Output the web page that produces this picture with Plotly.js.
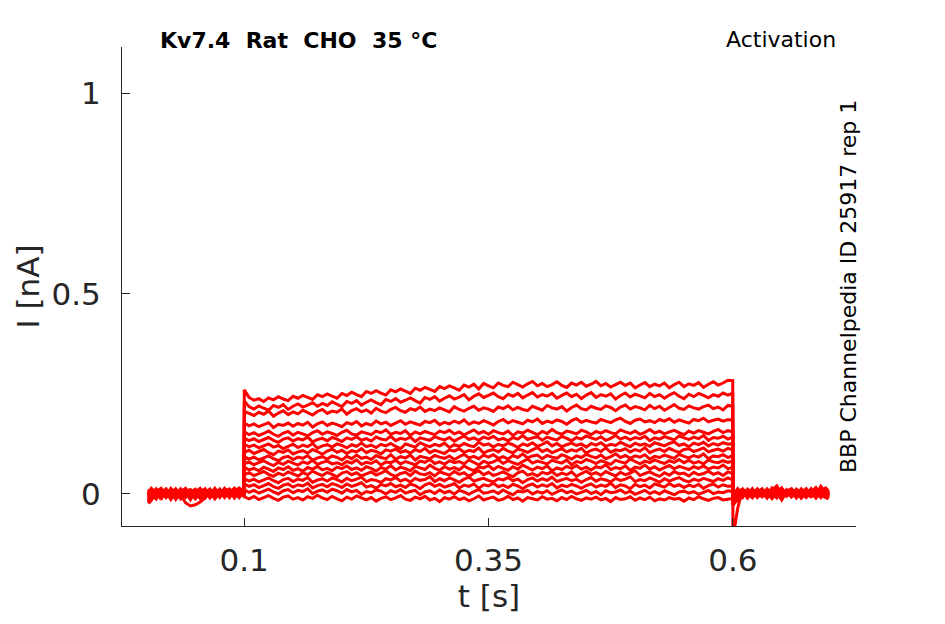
<!DOCTYPE html>
<html>
<head>
<meta charset="utf-8">
<script src="https://cdn.plot.ly/plotly-3.0.1.min.js"></script>
<style>html,body{margin:0;padding:0;background:#fff;}#chart{width:945px;height:624px;}</style>
</head>
<body>
<div id="chart"></div>
<script>
// sample times in ms
const tPre = [2, 5, 10, 15, 20, 25, 30, 35, 40, 45, 50, 55, 60, 65, 70, 75, 80, 85, 90, 95, 99.9];
const tStep = [100.1, 105, 110, 115, 120, 125, 130, 135, 140, 145, 150, 155, 160, 165, 170, 175, 180, 185, 190, 195,
  200, 205, 210, 215, 220, 225, 230, 235, 240, 245, 250, 255, 260, 265, 270, 275, 280, 285, 290, 295,
  300, 305, 310, 315, 320, 325, 330, 335, 340, 345, 350, 355, 360, 365, 370, 375, 380, 385, 390, 395,
  400, 405, 410, 415, 420, 425, 430, 435, 440, 445, 450, 455, 460, 465, 470, 475, 480, 485, 490, 495,
  500, 505, 510, 515, 520, 525, 530, 535, 540, 545, 550, 555, 560, 565, 570, 575, 580, 585, 590, 595, 599.9];
const tPost = [600.1, 605, 610, 615, 620, 625, 630, 635, 640, 645, 650, 655, 660, 665, 670, 675, 680, 685, 690, 695, 698];

// currents in pA: before the step, during the step, after the step
const pre = [
  [-10, 8, -6, 12, -3, 9, -13, 4, 11, -7, 6, 14, -4, 10, -11, 2, 13, -6, 7, 15, 3],
  [-20, -9, 6, -14, 11, 0, -8, 12, -4, 8, -12, 2, 10, -6, 14, -2, 6, -9, 11, 0, -6],
  [5, -15, 2, 11, -8, 4, -12, 9, 0, -11, 7, -4, 12, -9, 3, 11, -6, 2, 14, -8, 9],
  [-24, -16, 9, -4, 6, -11, 12, -2, 7, -14, 4, 11, -7, 0, 9, -5, 14, 3, -4, 9, 2],
  [9, -4, -13, 7, -6, 14, 2, -9, 11, -2, 5, -11, 3, 12, -8, 7, 0, 11, -6, 5, 12],
  [-7, 5, 11, -9, 4, -6, 9, -2, -22, -30, -27, -20, -10, 5, -4, 9, -7, 3, 12, -2, 7],
  [3, -11, 6, 14, -4, 9, -9, 2, 12, -6, 7, -2, 11, -10, 5, 0, 9, -4, 7, 13, 0],
  [-17, 9, -7, 4, 12, -6, 2, -12, 7, 11, -4, 5, -9, 10, 2, -6, 12, 7, -2, 6, -5],
  [12, 0, -9, 5, -2, 11, -7, 4, 9, -11, 2, 12, -5, 7, -3, 9, 3, -7, 11, 2, 10],
  [-5, 14, 2, -10, 7, -4, 11, 0, -9, 5, 12, -6, 4, -2, 10, -9, 6, 12, 0, 7, -4],
  [-22, -10, 10, 2, -7, 5, -12, 9, 3, -4, 7, -11, 2, 11, -6, 7, -2, 4, 14, -4, 5],
  [7, -6, 0, 9, -9, 4, 12, -4, 5, -7, 0, 9, -2, 5, -12, 3, 10, -5, 2, 9, 13],
  [-13, 2, 9, -7, 5, -14, 4, 11, -5, 2, -9, 7, 12, -4, 6, -7, 2, 9, -10, 4, -2],
  [5, -12, 7, 2, 11, -4, -9, 5, 14, -2, 4, -7, 9, 0, -5, 12, -4, 7, 2, -9, 10],
  [-18, 4, -4, 9, 0, 7, -5, 12, 2, -7, 9, 4, -10, 5, 11, -2, 7, -7, 4, 12, 0],
  [2, -7, 12, -5, 4, -2, 10, -7, 5, 2, -11, 5, 0, 9, -4, 5, -9, 11, -2, 4, -5]
];
const step = [
  [260, 241, 234, 238, 231, 240, 235, 243, 237, 233, 244, 239, 246, 241, 236, 248, 243, 250, 244, 239, 251,
   246, 254, 248, 243, 256, 251, 258, 252, 247, 260, 255, 262, 257, 251, 264, 259, 266, 261, 256, 268,
   263, 270, 265, 259, 272, 267, 274, 262, 276, 270, 265, 277, 271, 268, 279, 273, 267, 275, 281, 270,
   276, 268, 273, 280, 271, 266, 277, 272, 279, 269, 274, 281, 270, 276, 267, 273, 279, 271, 277, 265,
   272, 278, 268, 274, 270, 277, 265, 273, 279, 268, 275, 271, 278, 266, 274, 280, 272, 277, 284, 283],
  [232, 218, 212, 220, 214, 209, 221, 216, 223, 211, 219, 225, 217, 222, 228, 219, 226, 221, 230, 224, 218,
   231, 226, 233, 222, 229, 235, 228, 223, 236, 231, 238, 229, 234, 240, 233, 227, 241, 236, 243, 232,
   239, 245, 237, 242, 248, 235, 244, 250, 241, 246, 252, 243, 238, 249, 244, 251, 240, 247, 253, 242,
   248, 244, 251, 239, 246, 252, 243, 249, 238, 247, 253, 241, 248, 244, 250, 237, 246, 252, 242, 249,
   245, 240, 251, 243, 248, 239, 247, 253, 244, 238, 249, 243, 251, 246, 240, 248, 244, 252, 247, 251],
  [206, 201, 196, 204, 199, 207, 194, 202, 208, 198, 205, 200, 209, 203, 197, 206, 211, 201, 207, 204, 212,
   199, 208, 213, 205, 210, 202, 214, 207, 203, 211, 216, 208, 204, 213, 209, 217, 206, 212, 208, 215,
   210, 205, 218, 211, 207, 214, 219, 209, 215, 212, 206, 217, 213, 220, 210, 216, 211, 208, 219, 214,
   209, 221, 215, 212, 218, 207, 216, 222, 213, 210, 219, 214, 211, 220, 216, 208, 217, 222, 212, 218,
   215, 210, 221, 213, 219, 209, 216, 223, 214, 211, 220, 215, 212, 218, 222, 213, 217, 210, 221, 219],
  [177, 170, 175, 168, 173, 178, 166, 174, 171, 177, 169, 176, 172, 179, 167, 175, 180, 171, 177, 173, 168,
   178, 174, 181, 170, 176, 172, 182, 175, 179, 171, 177, 183, 174, 180, 176, 172, 181, 178, 184, 173,
   179, 175, 182, 177, 185, 174, 180, 176, 183, 178, 172, 181, 186, 177, 183, 179, 175, 184, 180, 187,
   176, 182, 178, 185, 181, 174, 183, 188, 179, 184, 180, 177, 186, 182, 178, 185, 189, 181, 176, 184,
   187, 180, 183, 178, 186, 182, 188, 179, 185, 181, 177, 186, 183, 189, 180, 184, 187, 182, 186, 184],
  [155, 148, 153, 146, 151, 157, 149, 144, 152, 156, 147, 154, 150, 145, 153, 158, 149, 155, 151, 146, 154,
   159, 150, 147, 155, 152, 148, 157, 153, 160, 149, 154, 151, 158, 146, 155, 150, 156, 152, 148, 157,
   153, 159, 150, 155, 147, 154, 160, 151, 156, 149, 158, 153, 150, 157, 146, 155, 152, 159, 154, 148,
   156, 151, 161, 153, 149, 157, 154, 150, 159, 155, 148, 156, 152, 158, 153, 150, 160, 155, 151, 157,
   149, 154, 161, 152, 157, 150, 155, 159, 153, 148, 157, 152, 158, 154, 150, 156, 161, 153, 158, 155],
  [139, 133, 138, 131, 136, 141, 134, 129, 137, 140, 132, 138, 135, 142, 130, 136, 139, 133, 141, 137, 131,
   140, 136, 143, 134, 138, 132, 142, 137, 135, 144, 133, 139, 136, 142, 131, 140, 137, 134, 143, 138,
   135, 141, 132, 139, 145, 136, 140, 134, 142, 138, 144, 135, 139, 133, 141, 137, 146, 136, 140, 143,
   134, 142, 138, 135, 144, 139, 133, 141, 137, 145, 140, 136, 143, 134, 139, 146, 137, 142, 135, 141,
   138, 144, 133, 140, 137, 143, 139, 135, 145, 140, 136, 142, 138, 146, 134, 141, 139, 144, 137, 142],
  [124, 118, 122, 115, 120, 125, 117, 121, 113, 119, 124, 116, 122, 118, 126, 114, 120, 123, 117, 125, 121,
   115, 123, 119, 127, 118, 122, 116, 124, 120, 126, 119, 113, 125, 121, 117, 128, 122, 118, 124, 120,
   127, 116, 123, 119, 126, 121, 118, 129, 122, 125, 117, 124, 120, 127, 123, 116, 125, 121, 128, 119,
   124, 130, 120, 126, 118, 123, 127, 121, 125, 117, 126, 122, 128, 119, 124, 121, 129, 123, 118, 127,
   122, 125, 119, 128, 124, 120, 126, 130, 121, 125, 118, 127, 123, 129, 120, 126, 122, 128, 124, 126],
  [104, 109, 101, 106, 111, 103, 98, 107, 104, 110, 100, 105, 108, 102, 111, 106, 99, 107, 112, 104, 109,
   101, 108, 105, 113, 103, 109, 106, 100, 110, 107, 112, 104, 108, 102, 111, 106, 114, 103, 109, 105,
   101, 110, 107, 113, 104, 109, 106, 115, 102, 108, 111, 105, 114, 107, 103, 112, 109, 104, 110, 116,
   106, 111, 103, 108, 113, 105, 110, 107, 114, 102, 109, 112, 106, 115, 104, 110, 108, 113, 105, 111,
   107, 116, 103, 109, 112, 106, 114, 108, 104, 111, 113, 106, 110, 115, 105, 109, 112, 107, 114, 110],
  [93, 87, 92, 85, 90, 95, 88, 83, 91, 94, 86, 92, 89, 96, 84, 90, 93, 87, 95, 91, 85,
   94, 88, 97, 89, 92, 86, 96, 91, 88, 98, 87, 93, 90, 97, 85, 94, 91, 88, 96, 92,
   89, 95, 86, 93, 99, 90, 94, 88, 97, 92, 98, 89, 93, 87, 96, 91, 100, 90, 95, 97,
   88, 96, 92, 89, 98, 93, 87, 95, 91, 99, 94, 90, 97, 88, 93, 100, 91, 96, 89, 95,
   92, 98, 87, 94, 91, 97, 93, 89, 99, 94, 90, 96, 92, 100, 88, 95, 93, 98, 91, 96],
  [75, 80, 73, 78, 83, 76, 71, 79, 74, 82, 77, 72, 80, 76, 84, 74, 79, 82, 75, 78, 73,
   81, 77, 85, 74, 79, 76, 83, 72, 80, 78, 84, 75, 81, 77, 73, 82, 79, 86, 76, 80,
   74, 83, 78, 81, 75, 85, 79, 72, 82, 77, 80, 86, 76, 83, 78, 74, 81, 87, 77, 82,
   79, 75, 84, 80, 77, 85, 73, 81, 78, 86, 82, 76, 83, 79, 74, 84, 80, 77, 87, 81,
   75, 82, 78, 85, 80, 76, 83, 79, 86, 78, 84, 77, 81, 75, 85, 80, 78, 83, 79, 82],
  [66, 60, 64, 58, 67, 62, 56, 65, 61, 68, 59, 63, 57, 66, 62, 69, 60, 64, 58, 67, 63,
   70, 61, 65, 59, 68, 64, 57, 66, 62, 71, 60, 67, 63, 58, 69, 65, 61, 72, 64, 59,
   68, 62, 66, 60, 70, 63, 58, 67, 65, 71, 61, 69, 64, 59, 68, 62, 72, 66, 60, 67,
   63, 70, 58, 65, 61, 69, 64, 71, 62, 67, 60, 68, 65, 73, 61, 66, 63, 70, 59, 67,
   64, 72, 62, 68, 60, 66, 71, 63, 69, 65, 61, 68, 64, 70, 62, 67, 65, 72, 63, 66],
  [48, 53, 46, 51, 56, 49, 44, 52, 47, 55, 50, 45, 53, 48, 57, 51, 46, 54, 49, 43, 52,
   56, 48, 53, 45, 50, 55, 47, 52, 58, 49, 44, 51, 54, 46, 57, 50, 48, 53, 45, 55,
   51, 47, 56, 49, 53, 44, 52, 58, 48, 54, 46, 50, 55, 49, 43, 53, 57, 47, 51, 45,
   54, 50, 56, 46, 52, 48, 55, 44, 51, 57, 49, 53, 47, 56, 50, 45, 54, 48, 52, 58,
   46, 51, 55, 49, 44, 53, 47, 56, 50, 52, 45, 54, 48, 51, 57, 49, 53, 46, 55, 51],
  [38, 32, 37, 30, 35, 40, 33, 28, 36, 39, 31, 37, 34, 41, 29, 35, 38, 32, 40, 36, 30,
   39, 33, 37, 42, 31, 36, 34, 29, 38, 35, 41, 32, 37, 30, 39, 34, 36, 43, 31, 38,
   33, 40, 35, 29, 37, 42, 32, 36, 39, 34, 30, 38, 35, 41, 33, 37, 28, 36, 40, 32,
   38, 34, 42, 31, 35, 39, 33, 37, 29, 36, 41, 32, 38, 35, 30, 39, 34, 37, 43, 31,
   36, 33, 40, 35, 29, 38, 32, 37, 41, 34, 30, 37, 33, 39, 35, 31, 38, 34, 40, 35],
  [25, 19, 23, 16, 21, 26, 18, 14, 22, 25, 17, 23, 20, 27, 15, 21, 24, 18, 26, 22, 16,
   25, 19, 23, 28, 17, 21, 14, 24, 20, 26, 18, 22, 16, 25, 21, 13, 23, 27, 19, 24,
   17, 21, 26, 15, 22, 19, 25, 14, 23, 20, 27, 18, 22, 16, 24, 20, 13, 21, 25, 17,
   23, 19, 26, 15, 22, 18, 24, 20, 14, 21, 25, 17, 22, 19, 27, 16, 23, 20, 13, 24,
   18, 22, 15, 25, 21, 17, 26, 19, 23, 16, 22, 18, 24, 14, 21, 25, 17, 23, 19, 20],
  [10, 4, 9, 2, 7, 12, 5, 0, 8, 11, 3, 9, 6, 13, 1, 7, 10, 4, 12, 8, 2,
   11, 5, 9, -1, 6, 3, 10, 7, 0, 8, 4, 11, 2, 6, 9, -2, 5, 8, 1, 10,
   3, 7, 0, 9, 5, -1, 6, 11, 2, 4, 8, 1, 10, 3, -2, 7, 5, 9, 0, 6,
   2, 8, -1, 5, 10, 3, 7, 0, 4, 9, 1, 6, -2, 8, 3, 5, 10, 2, 7, -1,
   4, 9, 1, 6, 0, 8, 3, -2, 5, 7, 2, 6, -1, 4, 9, 1, 5, 3, 8, 6],
  [-7, -12, -6, -14, -9, -4, -11, -16, -8, -5, -13, -9, -15, -7, -11, -3, -10, -14, -6, -12, -17,
   -8, -13, -5, -10, -15, -9, -18, -11, -7, -14, -10, -4, -13, -16, -8, -12, -6, -15, -11, -19,
   -9, -13, -7, -14, -10, -17, -12, -5, -15, -11, -8, -16, -13, -6, -14, -10, -18, -9, -12, -15,
   -7, -13, -11, -17, -9, -14, -6, -12, -16, -10, -13, -8, -15, -11, -19, -9, -14, -12, -7, -16,
   -10, -14, -8, -17, -12, -15, -9, -13, -11, -18, -10, -14, -7, -12, -16, -11, -9, -15, -13, -11]
];
const post = [
  [-110, -35, 10, -5, 13, -4, 9, -7, 15, 2, -9, 7, 12, -4, 10, -5, 5, 16, -2, 9, 5],
  [-28, -14, -4, 9, 0, 12, -5, 7, 2, -10, 10, 3, -7, 9, 0, 13, -4, 5, -9, 10, 2],
  [-20, 5, 12, 2, -9, 5, -2, 10, -7, 3, 15, -4, 7, -10, 5, 2, 10, -5, 19, 3, -2],
  [-12, -12, 3, 7, 10, -5, 9, 0, -9, 12, 2, 5, -4, 10, -7, 3, 9, -2, 7, -5, 3],
  [-24, -7, 5, -10, 7, 2, -7, 12, 3, -4, 9, -5, 10, 0, -9, 7, 2, 12, -4, 5, -7],
  [-9, -16, 10, 0, -5, 9, 3, -9, 5, 13, -4, 10, -7, 2, 9, -2, 5, -10, 7, 15, 7],
  [-17, -5, 7, 3, -7, 12, 2, -5, 9, 20, 0, -4, 9, 3, -5, 10, -2, 7, 3, -7, 2],
  [-10, 5, -9, 12, 3, -4, 7, 10, -7, 5, 9, 0, -5, 12, 2, -9, 5, 10, -4, 7, 9],
  [-26, -10, 2, 5, -7, 10, 2, -5, 9, 0, -9, 5, 13, -2, 7, -4, 9, 0, -7, 3, -10],
  [-6, 13, -4, 7, -5, 9, 5, -10, 7, 10, -4, 2, 9, -7, 3, 12, -5, 7, 2, 10, -4],
  [-19, -9, 7, -4, 12, -7, 10, 0, 5, -5, 12, -2, 3, 9, -9, 5, 0, -4, 10, 5, 7],
  [-14, 3, 12, -7, 2, 9, -5, 12, -4, 7, 0, 10, -7, 3, 9, -2, 13, -5, 3, 9, -2],
  [-5, -10, 2, 9, -9, 5, 13, -4, 10, -7, 5, -2, 9, 3, -5, 10, 2, -9, 5, 12, 3],
  [-22, 9, -5, 3, 10, -9, 2, 7, -5, 12, -9, 3, 7, -4, 13, 0, -7, 5, 9, -2, -5],
  [-12, 2, 10, -10, 5, 0, 9, -7, 12, 3, 7, -5, 10, 2, -4, 9, 5, -9, 12, 0, 7],
  [-15, -13, 0, 7, -4, 10, -5, 3, -12, 2, -15, 5, 0, 9, -10, 3, -5, 7, -2, -9, -12]
];

const xTickVals = [0.1, 0.35, 0.6];
const xTickText = ['0.1', '0.35', '0.6'];
const yTickVals = [0, 0.5, 1];
const yTickText = ['0', '0.5', '1'];

const tSec = tPre.concat(tStep, tPost).map(v => v / 1000);
const traces = pre.map((p, i) => ({
  type: 'scatter', mode: 'lines',
  x: tSec,
  y: p.concat(step[i], post[i]).map(v => v / 1000),
  line: {color: '#ff0000', width: 3, simplify: false},
  hoverinfo: 'skip', showlegend: false
}));

const axisColor = '#262626';
const font = 'DejaVu Sans, sans-serif';
const layout = {
  width: 945, height: 624,
  margin: {l: 122, r: 89, t: 47, b: 98, pad: 0},
  paper_bgcolor: '#ffffff', plot_bgcolor: '#ffffff',
  font: {family: font, color: axisColor},
  showlegend: false,
  xaxis: {
    range: [-0.025, 0.726], tickvals: xTickVals, ticktext: xTickText,
    ticks: 'inside', ticklen: 8, tickwidth: 1, tickcolor: axisColor,
    showline: true, linecolor: axisColor, linewidth: 1, mirror: false,
    showgrid: false, zeroline: false,
    tickfont: {family: font, size: 31, color: axisColor},
    ticklabelstandoff: 7,
    title: {text: 't [s]', font: {family: font, size: 31, color: axisColor}, standoff: 8}
  },
  yaxis: {
    range: [-0.08, 1.116], tickvals: yTickVals, ticktext: yTickText,
    ticks: 'inside', ticklen: 8, tickwidth: 1, tickcolor: axisColor,
    showline: true, linecolor: axisColor, linewidth: 1, mirror: false,
    showgrid: false, zeroline: false,
    tickfont: {family: font, size: 31, color: axisColor},
    ticklabelstandoff: 14,
    title: {text: 'I [nA]', font: {family: font, size: 31, color: axisColor}, standoff: 2}
  },
  annotations: [
    {text: '<b>Kv7.4\u00a0\u00a0Rat\u00a0\u00a0CHO\u00a0\u00a035\u00a0°C</b>', xref: 'paper', yref: 'paper',
     x: 0.049, y: 1.0146, xanchor: 'left', yanchor: 'middle', showarrow: false,
     font: {family: font, size: 22, color: '#000000'}},
    {text: 'Activation', xref: 'paper', yref: 'paper',
     x: 0.9755, y: 1.0167, xanchor: 'right', yanchor: 'middle', showarrow: false,
     font: {family: font, size: 22, color: '#000000'}},
    {text: 'BBP Channelpedia ID 25917 rep 1', xref: 'paper', yref: 'paper',
     x: 0.9905, y: 0.499, xanchor: 'center', yanchor: 'middle', showarrow: false, textangle: -90,
     font: {family: font, size: 22, color: '#000000'}}
  ]
};

Plotly.newPlot('chart', traces, layout, {staticPlot: true, displayModeBar: false});
</script>
</body>
</html>
